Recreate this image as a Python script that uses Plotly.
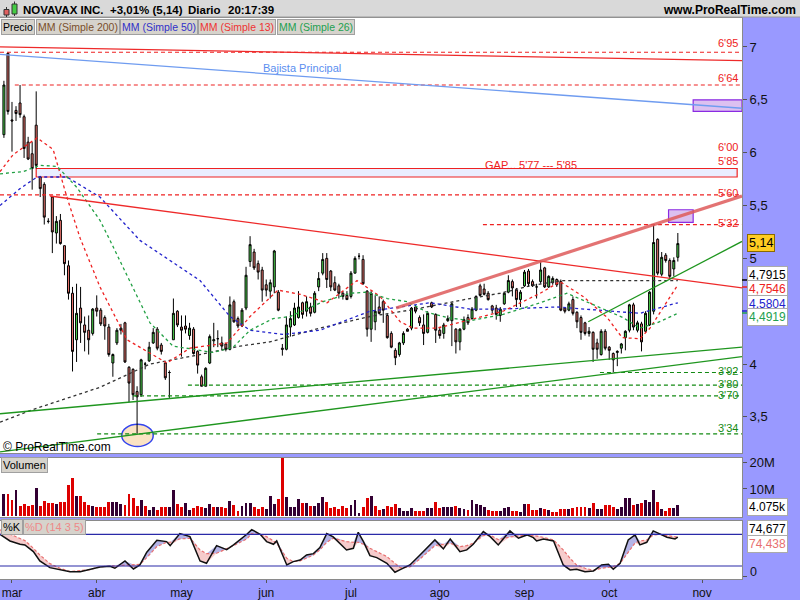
import plotly.graph_objects as go
from plotly.subplots import make_subplots

# ---------------- DATA ----------------
opens = [6.17,6.94,6.31,6.40,6.47,6.34,6.10,5.99,6.26,5.77,5.70,5.35,5.58,5.24,5.36,5.12,4.93,4.67,4.23,4.53,
         4.37,4.32,4.29,4.53,4.51,4.44,4.35,4.01,4.20,4.34,4.39,3.97,3.95,3.74,3.71,4.00,4.03,4.20,4.33,4.18,
         4.01,3.92,4.23,4.50,4.35,4.36,4.27,4.33,4.12,3.88,3.79,4.01,4.22,4.24,4.20,4.19,4.14,4.59,4.43,4.36,
         4.53,4.97,5.06,4.95,4.89,4.75,4.69,4.73,4.68,4.15,4.14,4.35,4.37,4.44,4.58,4.50,4.54,4.49,4.73,4.86,
         5.00,4.88,4.77,4.74,4.67,4.65,4.64,4.86,5.02,4.99,4.69,4.33,4.40,4.54,4.59,4.46,4.29,4.13,4.09,4.20,
         4.33,4.34,4.54,4.44,4.37,4.30,4.58,4.47,4.32,4.29,4.41,4.41,4.33,4.21,4.33,4.44,4.43,4.51,4.74,4.71,
         4.67,4.55,4.53,4.46,4.57,4.68,4.78,4.70,4.61,4.74,4.88,4.78,4.73,4.78,4.91,4.73,4.77,4.80,4.78,4.53,
         4.51,4.61,4.49,4.44,4.39,4.29,4.30,4.20,4.09,4.31,4.16,4.10,4.11,4.15,4.25,4.32,4.56,4.32,4.38,4.31,
         4.37,4.50,5.18,4.85,5.03,4.98,4.90,5.01]
highs = [6.68,6.95,6.48,6.44,6.64,6.36,6.15,6.10,6.58,5.78,5.72,5.38,5.59,5.40,5.42,5.12,4.98,4.73,4.76,4.73,
         4.45,4.46,4.53,4.65,4.53,4.46,4.38,4.10,4.34,4.38,4.40,3.98,3.96,3.79,4.05,4.02,4.21,4.34,4.35,4.20,
         4.02,3.94,4.62,4.51,4.46,4.46,4.39,4.35,4.13,3.90,3.97,4.28,4.39,4.32,4.26,4.20,4.64,4.61,4.45,4.53,
         4.92,5.21,5.09,4.98,4.92,4.80,4.80,5.08,4.70,4.19,4.45,4.50,4.58,4.69,4.59,4.64,4.58,4.69,4.87,5.05,
         5.05,4.89,4.83,4.76,4.69,4.69,4.88,5.02,5.05,5.03,4.70,4.69,4.65,4.64,4.61,4.48,4.31,4.15,4.21,4.31,
         4.34,4.54,4.56,4.46,4.47,4.50,4.59,4.48,4.34,4.39,4.46,4.58,4.34,4.34,4.45,4.47,4.54,4.65,4.76,4.76,
         4.69,4.56,4.56,4.54,4.68,4.84,4.80,4.72,4.70,4.89,4.90,4.80,4.76,4.98,4.92,4.84,4.83,4.81,4.80,4.54,
         4.59,4.64,4.50,4.46,4.40,4.35,4.31,4.24,4.33,4.33,4.17,4.11,4.13,4.20,4.32,4.57,4.58,4.41,4.40,4.50,
         4.69,5.32,5.19,5.06,5.05,5.00,5.01,5.24]
lows = [6.14,6.36,6.01,6.30,6.33,5.95,5.93,5.65,5.85,5.58,5.32,5.33,5.05,5.14,5.13,4.84,4.61,3.93,4.02,4.20,
        4.12,4.09,4.27,4.45,4.36,4.23,4.07,3.88,4.18,4.28,4.01,3.64,3.66,3.34,3.69,3.95,4.02,4.19,4.13,4.09,
        3.85,3.68,4.23,4.35,4.07,4.29,4.23,4.09,3.91,3.79,3.79,4.00,4.16,4.16,4.13,4.12,4.13,4.39,4.34,4.35,
        4.51,4.92,4.89,4.80,4.59,4.64,4.62,4.67,4.50,4.08,4.13,4.26,4.36,4.43,4.43,4.45,4.45,4.48,4.69,4.84,
        4.72,4.69,4.69,4.62,4.61,4.61,4.62,4.86,4.99,4.75,4.26,4.21,4.32,4.47,4.39,4.24,4.15,3.99,4.07,4.18,
        4.31,4.32,4.48,4.36,4.18,4.29,4.53,4.20,4.24,4.24,4.40,4.17,4.10,4.13,4.32,4.37,4.42,4.50,4.64,4.65,
        4.60,4.48,4.42,4.40,4.56,4.67,4.64,4.54,4.54,4.73,4.73,4.73,4.62,4.76,4.72,4.72,4.75,4.73,4.50,4.48,
        4.50,4.46,4.34,4.23,4.27,4.26,4.02,4.05,4.08,4.13,4.04,3.92,3.98,4.10,4.13,4.30,4.32,4.30,4.12,4.30,
        4.36,4.47,4.84,4.83,4.96,4.80,4.83,4.97]
closes = [6.64,6.39,6.30,6.37,6.36,6.04,5.94,5.85,5.88,5.66,5.39,5.35,5.25,5.35,5.14,4.95,4.67,4.12,4.48,4.39,
          4.30,4.23,4.52,4.50,4.38,4.36,4.09,4.09,4.32,4.32,4.02,3.82,3.71,3.69,4.04,4.00,4.16,4.30,4.15,4.12,
          3.87,3.92,4.48,4.37,4.32,4.33,4.34,4.10,3.99,3.79,3.96,4.26,4.23,4.24,4.17,4.14,4.56,4.40,4.36,4.51,
          4.84,5.13,4.91,4.87,4.70,4.70,4.77,5.07,4.51,4.14,4.37,4.43,4.53,4.54,4.47,4.59,4.48,4.67,4.81,4.99,
          4.80,4.73,4.70,4.67,4.64,4.61,4.86,5.00,5.02,4.76,4.33,4.67,4.50,4.48,4.51,4.25,4.16,4.06,4.20,4.29,
          4.31,4.53,4.50,4.39,4.29,4.48,4.54,4.32,4.27,4.37,4.43,4.57,4.21,4.33,4.42,4.39,4.52,4.64,4.65,4.66,
          4.61,4.51,4.47,4.52,4.67,4.79,4.72,4.61,4.68,4.87,4.76,4.74,4.73,4.89,4.73,4.83,4.81,4.75,4.51,4.50,
          4.57,4.48,4.40,4.30,4.29,4.31,4.14,4.14,4.31,4.15,4.13,4.04,4.12,4.19,4.31,4.56,4.35,4.39,4.21,4.48,
          4.68,5.15,4.86,5.01,4.98,4.83,4.98,5.14]
volumes_m = [8.1,8.1,5.8,9.9,3.8,4.5,3.8,4.1,10.3,3.8,5.5,4.7,4.7,4.5,5.4,5.1,11.5,14.1,7.3,7.3,
             5.1,4.1,3.6,3.2,3.2,3.2,5.4,5.1,5.1,4.5,4.2,8.3,6.7,3.8,5.8,3.6,2.3,3.5,2.3,3.2,
             3.2,3.2,9.9,4.5,3.5,4.7,2.3,2.9,3.6,3.5,2.9,4.5,3.2,3.2,3.2,2.8,5.5,4.1,1.9,3.6,
             4.7,4.7,3.2,2.6,3.2,2.6,7.3,4.5,6.2,21.8,7.1,3.2,3.5,6.2,4.7,4.7,3.6,3.8,4.7,7.1,
             5.4,2.9,3.2,2.6,3.8,2.8,4.1,6.0,1.0,3.2,6.7,7.3,3.8,2.2,2.6,3.6,3.2,4.5,2.9,
             2.0,2.0,2.9,2.0,2.0,2.0,3.0,3.0,5.1,2.9,3.25,3.5,3.5,3.6,3.0,2.6,2.25,6.0,4.5,4.1,
             3.25,2.25,2.0,2.0,2.0,3.0,3.5,2.0,2.0,1.4,4.5,4.5,2.4,2.25,3.0,2.6,2.4,1.6,1.6,2.6,
             2.6,2.6,3.0,3.25,3.25,3.5,3.0,4.9,2.6,2.6,4.1,4.1,3.25,2.6,3.25,6.75,6.75,4.25,4.5,4.75,
             6.0,5.1,9.75,5.1,2.6,2.0,3.0,3.0,4.075]

month_labels = ["mar", "abr", "may", "jun", "jul", "ago", "sep", "oct", "nov"]
month_index = [2, 23, 44, 65, 86, 108, 129, 150, 173]

# moving averages (candle index, value)
ma200_x = [-0.97, 7.2, 23.8, 32.0, 36.2, 48.6, 58.5, 65.9, 78.3, 90.7, 100.6, 115.5, 123.0, 130.4, 138.3, 167]
ma200_y = [3.45, 3.57, 3.78, 3.93, 4.00, 4.09, 4.17, 4.21, 4.34, 4.45, 4.51, 4.62, 4.67, 4.74, 4.79, 4.79]
ma50_x = [-0.97, 4.0, 8.2, 15.6, 23.8, 33.7, 48.6, 56.0, 61.0, 69.2, 78.3, 90.7, 105.6, 115.5, 123.0, 137.1, 157.6, 167]
ma50_y = [5.50, 5.66, 5.77, 5.77, 5.58, 5.17, 4.79, 4.45, 4.32, 4.28, 4.32, 4.50, 4.58, 4.52, 4.52, 4.54, 4.48, 4.58]
ma13_x = [-0.97, 2.25, 8.2, 12.2, 15.6, 18.9, 23.8, 30.5, 40.4, 46.1, 55.3, 61.0, 67.9, 73.4, 80.1, 87.5, 93.2,
          98.2, 101.4, 107.3, 115.5, 123.7, 132.9, 137.8, 143.5, 149.5, 153.2, 157.6, 160.1, 163.3, 167]
ma13_y = [5.82, 5.98, 6.14, 6.03, 5.58, 5.19, 4.73, 4.23, 4.01, 4.15, 4.20, 4.45, 4.70, 4.66, 4.58, 4.79, 4.64,
          4.40, 4.34, 4.34, 4.42, 4.50, 4.67, 4.78, 4.64, 4.44, 4.25, 4.24, 4.34, 4.53, 4.75]
ma26_x = [-0.97, 4.7, 8.9, 13.2, 18.1, 23.8, 26.3, 36.2, 41.9, 51.8, 56.8, 61.0, 66.7, 70.9, 79.1, 85.8, 90.0,
          95.0, 99.9, 104.9, 109.8, 115.5, 123.7, 132.9, 139.5, 147.7, 153.4, 157.6, 161.9, 167]
ma26_y = [5.80, 5.82, 5.88, 5.87, 5.67, 5.36, 5.17, 4.39, 4.17, 4.11, 4.16, 4.32, 4.43, 4.45, 4.59, 4.67, 4.68,
          4.62, 4.59, 4.49, 4.44, 4.41, 4.47, 4.58, 4.67, 4.53, 4.44, 4.34, 4.39, 4.48]

# stochastic %K / %D (14 3 5)
stoch_x = [-0.97, 1.5, 4.0, 5.2, 7.3, 8.9, 11.4, 13.9, 16.4, 18.9, 21.3, 23.8, 26.3, 27.5, 30.0, 32.1, 33.7, 35.4,
           37.9, 40.3, 41.2, 43.6, 46.1, 48.6, 50.2, 52.7, 55.2, 56.9, 60.2, 61.4, 63.5, 65.1, 66.8, 67.6, 70.1,
           71.7, 73.4, 75.0, 76.7, 78.3, 80.0, 81.6, 84.9, 86.6, 87.8, 89.1, 90.7, 92.4, 94.9, 96.9,
           98.2, 100.6, 103.1, 105.6, 106.8, 108.9, 110.6, 113.0, 114.7, 116.3, 118.8, 120.5, 122.5, 125.4,
           127.5, 129.6, 131.2, 132.0, 133.7, 136.2, 138.6, 140.3, 141.9, 144.0, 146.1, 148.1, 149.8, 151.0,
           152.7, 154.7, 156.4, 157.6, 159.3, 160.9, 162.6, 164.3, 166.3, 167.0]
stoch_k = [80.0, 67.4, 61.1, 59.9, 47.2, 29.5, 16.9, 12.5, 9.3, 9.3, 13.8, 18.2, 19.4, 15.7, 29.5, 14.4, 22.0, 46.0,
           68.7, 66.2, 58.6, 81.3, 75.6, 29.5, 25.1, 58.6, 51.0, 59.9, 80.0, 88.9, 80.0, 66.2, 61.1, 67.4, 22.0,
           28.3, 31.4, 40.9, 43.4, 54.8, 81.3, 75.0, 50.4, 53.5, 83.8, 66.2, 39.6, 35.9, 25.1, 8.1,
           13.1, 22.0, 40.9, 61.1, 69.3, 52.3, 71.2, 47.2, 50.4, 61.1, 85.1, 75.6, 59.9, 86.4,
           72.5, 78.8, 73.7, 67.4, 71.2, 67.4, 22.0, 12.5, 13.8, 9.3, 10.6, 22.0, 23.2, 13.8,
           25.1, 69.3, 78.8, 59.9, 64.9, 86.4, 80.0, 74.4, 71.2, 74.677]
stoch_d = [88.3, 80.7, 72.5, 68.1, 53.5, 40.9, 24.5, 15.7, 9.3, 10.6, 13.1, 18.8, 20.1, 19.4, 22.0, 22.6, 23.2, 35.9,
           56.7, 64.9, 64.9, 71.2, 72.5, 50.4, 43.4, 44.1, 52.3, 58.6, 71.2, 81.3, 80.0, 75.6, 67.4, 63.0, 34.6,
           28.3, 29.5, 34.6, 40.9, 50.4, 64.9, 72.5, 66.2, 64.9, 64.9, 61.1, 53.5, 47.2, 37.8, 25.1,
           16.9, 18.2, 33.3, 50.4, 58.6, 61.1, 63.0, 56.7, 58.6, 63.0, 77.5, 78.8, 69.9, 75.0,
           77.5, 78.8, 77.5, 76.9, 74.4, 69.3, 50.4, 34.6, 22.0, 15.7, 11.9, 15.7, 18.2, 18.8,
           25.1, 46.0, 63.6, 67.4, 69.3, 78.8, 80.0, 77.5, 75.6, 74.438]

# drawn objects (candle index, price)
trend_lines = [  # x0, y0, x1, y1, kind
    (-0.97, 7.00, 182.9, 6.87, "red"),
    (-0.97, 6.93, 182.9, 6.42, "blue"),
    (11.4, 5.59, 182.9, 4.72, "red"),
    (97.2, 4.53, 182.9, 5.59, "thick"),
    (144.8, 4.40, 182.9, 5.16, "green"),
    (-0.97, 3.53, 182.9, 4.16, "green"),
    (-0.97, 3.17, 182.9, 4.07, "green"),
]
red_levels = [(6.95, -0.97), (6.64, 2.7), (5.60, -0.97), (5.32, 118.7)]
green_levels = [(3.92, 147.7), (3.80, 45.6), (3.70, 32.0), (3.34, 23.1)]
level_texts = [("6'95", 43, "r"), ("6'64", 78, "r"), ("6'00", 147, "r"), ("5'85", 161, "r"), ("5'60", 193, "r"),
               ("5'32", 223, "r"), ("3'92", 371, "g"), ("3'80", 384, "g"), ("3'70", 395, "g"), ("3'34", 428, "g")]

# ---------------- FIGURE ----------------
FONT = "Liberation Sans, Arial, sans-serif"
W_PLOT, TOP, BOT = 742.0, 18.0, 579.0


def PX(x):
    return x / W_PLOT


def PY(y):
    return (BOT - y) / (BOT - TOP)


idx = list(range(len(closes)))
fig = make_subplots(rows=3, cols=1, shared_xaxes=True, vertical_spacing=0.01)

fig.add_trace(go.Candlestick(
    x=idx, open=opens, high=highs, low=lows, close=closes,
    increasing=dict(line=dict(color="#000000", width=1), fillcolor="#4cd24c"),
    decreasing=dict(line=dict(color="#000000", width=1), fillcolor="#e8736c"),
    whiskerwidth=0, showlegend=False, hoverinfo="skip"), row=1, col=1)

for xs, ys, col in [(ma200_x, ma200_y, "#333333"), (ma50_x, ma50_y, "#2222cc"),
                    (ma13_x, ma13_y, "#ee2222"), (ma26_x, ma26_y, "#22a044")]:
    fig.add_trace(go.Scatter(x=xs, y=ys, mode="lines", line=dict(color=col, width=1.3, dash="3px,3px"),
                             showlegend=False, hoverinfo="skip"), row=1, col=1)

vol_colors = []
for i, c in enumerate(closes):
    prev = closes[i - 1] if i > 0 else opens[0]
    vol_colors.append("#330033" if c >= prev else "#dd0000")
fig.add_trace(go.Bar(x=idx, y=volumes_m, marker=dict(color=vol_colors, line=dict(width=0)), width=0.72,
                     showlegend=False, hoverinfo="skip"), row=2, col=1)

upper = [max(k, d) for k, d in zip(stoch_k, stoch_d)]
lower = [min(k, d) for k, d in zip(stoch_k, stoch_d)]
fig.add_trace(go.Scatter(x=stoch_x, y=stoch_d, mode="lines", line=dict(width=0), showlegend=False,
                         hoverinfo="skip"), row=3, col=1)
fig.add_trace(go.Scatter(x=stoch_x, y=upper, mode="lines", line=dict(width=0), fill="tonexty",
                         fillcolor="rgba(130,130,215,0.6)", showlegend=False, hoverinfo="skip"), row=3, col=1)
fig.add_trace(go.Scatter(x=stoch_x, y=stoch_d, mode="lines", line=dict(width=0), showlegend=False,
                         hoverinfo="skip"), row=3, col=1)
fig.add_trace(go.Scatter(x=stoch_x, y=lower, mode="lines", line=dict(width=0), fill="tonexty",
                         fillcolor="rgba(240,170,170,0.6)", showlegend=False, hoverinfo="skip"), row=3, col=1)
fig.add_trace(go.Scatter(x=stoch_x, y=stoch_d, mode="lines", line=dict(color="#e87070", width=1.2, dash="3px,2px"),
                         showlegend=False, hoverinfo="skip"), row=3, col=1)
fig.add_trace(go.Scatter(x=stoch_x, y=stoch_k, mode="lines", line=dict(color="#111111", width=1.5),
                         showlegend=False, hoverinfo="skip"), row=3, col=1)

XR = [-0.97, 182.9]
# stochastic 20/80 bands
for lv in (20, 80):
    fig.add_shape(type="line", xref="x3", yref="y3", x0=XR[0], x1=XR[1], y0=lv, y1=lv,
                  line=dict(color="#2a2aa8", width=1.2))

# price drawings
fig.add_shape(type="rect", xref="x", yref="y", x0=8.0, x1=181.7, y0=5.77, y1=5.85,
              fillcolor="#eaeeff", line=dict(color="#ee2222", width=1.2), layer="below")
fig.add_shape(type="rect", xref="x", yref="y", x0=170.8, x1=182.9, y0=6.39, y1=6.50,
              fillcolor="#dcc0f0", line=dict(color="#8a2be2", width=1.2))
fig.add_shape(type="rect", xref="x", yref="y", x0=164.7, x1=170.8, y0=5.34, y1=5.46,
              fillcolor="#dcc0f0", line=dict(color="#8a2be2", width=1.2))
fig.add_shape(type="circle", xref="x", yref="y", x0=29.2, x1=37.0, y0=3.22, y1=3.43,
              fillcolor="#fbe3c3", line=dict(color="#3344ee", width=1.5), layer="below")
for lv, x0 in red_levels:
    fig.add_shape(type="line", xref="x", yref="y", x0=x0, x1=XR[1], y0=lv, y1=lv,
                  line=dict(color="#ee2222", width=1.2, dash="4px,3px"))
for lv, x0 in green_levels:
    fig.add_shape(type="line", xref="x", yref="y", x0=x0, x1=XR[1], y0=lv, y1=lv,
                  line=dict(color="#138a13", width=1.2, dash="4px,3px"))
style = {"red": dict(color="#ee2a2a", width=1.3), "blue": dict(color="#6f9cf0", width=1.3),
         "thick": dict(color="rgba(222,90,90,0.85)", width=3.2), "green": dict(color="#1f961f", width=1.3)}
for x0, y0, x1, y1, kind in trend_lines:
    fig.add_shape(type="line", xref="x", yref="y", x0=x0, y0=y0, x1=x1, y1=y1, line=style[kind])

# header bar and icon
fig.add_shape(type="rect", xref="paper", yref="paper", x0=PX(0), x1=PX(800), y0=PY(17), y1=PY(0),
              fillcolor="#d9d9d9", line=dict(width=0))
fig.add_shape(type="line", xref="paper", yref="paper", x0=PX(0), x1=PX(800), y0=PY(17), y1=PY(17),
              line=dict(color="#9a9a9a", width=1))
fig.add_shape(type="line", xref="paper", yref="paper", x0=PX(6.5), x1=PX(6.5), y0=PY(17), y1=PY(7),
              line=dict(color="#333", width=1))
fig.add_shape(type="rect", xref="paper", yref="paper", x0=PX(4), x1=PX(9), y0=PY(15), y1=PY(9.5),
              fillcolor="#e06060", line=dict(color="#333", width=1))
fig.add_shape(type="line", xref="paper", yref="paper", x0=PX(14.5), x1=PX(14.5), y0=PY(16), y1=PY(1.5),
              line=dict(color="#333", width=1))
fig.add_shape(type="rect", xref="paper", yref="paper", x0=PX(12), x1=PX(17), y0=PY(14), y1=PY(4),
              fillcolor="#44cc44", line=dict(color="#333", width=1))


def ann(text, px, py, color="#000000", size=11, xanchor="left", bold=False, bg=None, border=None, pad=1):
    fig.add_annotation(xref="paper", yref="paper", x=PX(px), y=PY(py), text=("<b>%s</b>" % text) if bold else text,
                       showarrow=False, xanchor=xanchor, yanchor="middle",
                       font=dict(family=FONT, size=size, color=color),
                       bgcolor=bg, bordercolor=border, borderwidth=1 if border else 0, borderpad=pad)


ann("NOVAVAX INC.", 22, 9.5, size=11.5, bold=True)
ann("+3,01% (5,14)", 109, 9.5, size=11.5, bold=True)
ann("Diario", 187, 9.5, size=11.5, bold=True)
ann("20:17:39", 227, 9.5, size=11.5, bold=True)
ann("www.ProRealTime.com", 797, 10.5, size=12, bold=True, xanchor="right")

TAB = "#d6d3cc"
ann("Precio", 1, 27, size=10.5, bg=TAB, border="#a0a0a0")
ann("MM (Simple 200)", 36, 27, color="#7a4e2a", size=10.5, bg=TAB, border="#a0a0a0")
ann("MM (Simple 50)", 120, 27, color="#3030c8", size=10.5, bg=TAB, border="#a0a0a0")
ann("MM (Simple 13)", 198, 27, color="#ee3333", size=10.5, bg=TAB, border="#a0a0a0")
ann("MM (Simple 26)", 277, 27, color="#22a050", size=10.5, bg=TAB, border="#a0a0a0")
ann("Volumen", 1, 465, size=11, bg=TAB, border="#a0a0a0")
ann("%K", 1, 527, size=11, bg=TAB, border="#a0a0a0")
ann("%D (14 3 5)", 23, 527, color="#ee8888", size=11, bg=TAB, border="#a0a0a0")

ann("Bajista Principal", 302, 68, color="#5a8ef0", size=11, xanchor="center")
ann("GAP... 5'77 --- 5'85", 531, 165, color="#ee2222", size=11, xanchor="center")
for t, py, c in level_texts:
    ann(t, 739, py, color="#ee2222" if c == "r" else "#138a13", size=11, xanchor="right")
ann("© ProRealTime.com", 2, 447, size=12)

# right-side value labels
ann("5,14", 747, 243, size=12.5, bg="#ffcc22", border="#8a6a00")
ann("4,7915", 747, 275, size=12, bg="#ffffff", border="#aaaaaa")
ann("4,7546", 747, 288.5, color="#ee2222", size=12, bg="#ffffff", border="#aaaaaa")
ann("4,5804", 747, 304, color="#2222cc", size=12, bg="#ffffff", border="#aaaaaa")
ann("4,4919", 747, 316.5, color="#22a050", size=12, bg="#ffffff", border="#aaaaaa")
ann("4.075k", 747, 506.5, size=12, bg="#ffffff", border="#aaaaaa")
ann("74,677", 747, 529, size=12, bg="#ffffff", border="#aaaaaa")
ann("74,438", 747, 543.5, color="#e87070", size=12, bg="#ffffff", border="#aaaaaa")
ann("0", 749, 572, size=12.5, color="#111")
for py, col in [(280, "#000"), (287, "#ee2222"), (311, "#2222cc"), (313, "#22a050")]:
    fig.add_shape(type="line", xref="paper", yref="paper", x0=PX(742), x1=PX(747), y0=PY(py), y1=PY(py),
                  line=dict(color=col, width=1.5))

axis_common = dict(showgrid=False, zeroline=False, showline=True, mirror=True, linecolor="#8a8a8a", linewidth=1,
                   automargin=False)
fig.update_xaxes(range=XR, **axis_common)
fig.update_xaxes(showticklabels=False, ticks="", row=1, col=1)
fig.update_xaxes(showticklabels=False, ticks="", row=2, col=1)
fig.update_xaxes(tickvals=month_index, ticktext=month_labels, ticks="outside", ticklen=3, tickcolor="#555",
                 tickfont=dict(family=FONT, size=12, color="#111"), row=3, col=1)
fig.update_layout(xaxis_rangeslider_visible=False)

fig.update_yaxes(side="right", ticks="outside", ticklen=4, tickcolor="#555",
                 tickfont=dict(family=FONT, size=13, color="#111"), **axis_common)
fig.update_yaxes(range=[3.156, 7.274], tickvals=[3.5, 4, 5, 5.5, 6, 6.5, 7],
                 ticktext=["3,5", "4", "5", "5,5", "6", "6,5", "7"], domain=[0.2241, 1.0], row=1, col=1)
fig.update_yaxes(range=[-0.6, 21.7], tickvals=[10, 20], ticktext=["10M", "20M"], domain=[0.110, 0.2162],
                 row=2, col=1)
fig.update_yaxes(range=[-4.6, 105.7], tickvals=[0], ticktext=[""], domain=[0.0, 0.1039],
                 row=3, col=1)

fig.update_layout(width=800, height=600, margin=dict(l=0, r=58, t=18, b=21, autoexpand=False),
                  paper_bgcolor="#9999ff", plot_bgcolor="#ffffff", showlegend=False,
                  font=dict(family=FONT), bargap=0)

fig.write_html("out.html", config={"displayModeBar": False},
               post_script="document.body.style.margin='0px';document.body.style.overflow='hidden';")
